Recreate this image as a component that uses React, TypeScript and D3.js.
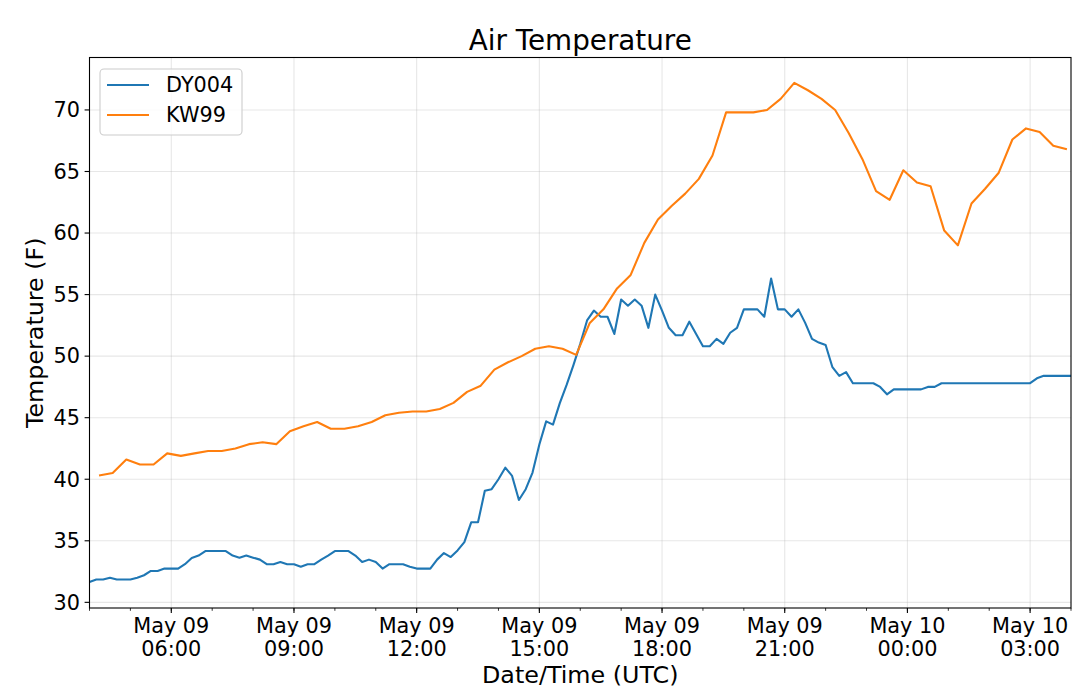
import * as d3 from "d3";

// DY004: one reading every 10 minutes from May 09 04:00 UTC
const dy004Start = Date.UTC(2019, 4, 9, 4, 0);
const dy004StepMin = 10;
const dy004Values = [
  31.65, 31.85, 31.85, 32.0, 31.85, 31.85, 31.85, 32.0, 32.2, 32.55,
  32.55, 32.74, 32.74, 32.74, 33.1, 33.6, 33.8, 34.17, 34.17, 34.17,
  34.17, 33.8, 33.63, 33.8, 33.63, 33.47, 33.1, 33.1, 33.28, 33.1,
  33.1, 32.9, 33.1, 33.1, 33.47, 33.8, 34.17, 34.17, 34.17, 33.8,
  33.28, 33.47, 33.28, 32.74, 33.1, 33.1, 33.1, 32.9, 32.74, 32.74,
  32.74, 33.47, 34.0, 33.68, 34.22, 34.89, 36.5, 36.5, 39.06, 39.19,
  40.0, 40.94, 40.27, 38.31, 39.19, 40.54, 42.82, 44.7, 44.44, 46.18,
  47.66, 49.27, 51.0, 52.9, 53.7, 53.2, 53.2, 51.8, 54.6, 54.1,
  54.6, 54.1, 52.3, 55.0, 53.7, 52.3, 51.7, 51.7, 52.8, 51.8,
  50.8, 50.8, 51.4, 51.0, 51.9, 52.3, 53.8, 53.8, 53.8, 53.2,
  56.3, 53.8, 53.8, 53.2, 53.8, 52.7, 51.4, 51.1, 50.9, 49.1,
  48.4, 48.7, 47.8, 47.8, 47.8, 47.8, 47.5, 46.9, 47.3, 47.3,
  47.3, 47.3, 47.3, 47.5, 47.5, 47.8, 47.8, 47.8, 47.8, 47.8,
  47.8, 47.8, 47.8, 47.8, 47.8, 47.8, 47.8, 47.8, 47.8, 48.2,
  48.4, 48.4, 48.4, 48.4, 48.4,
];

// KW99: one reading every 20 minutes from May 09 04:14 UTC
const kw99Start = Date.UTC(2019, 4, 9, 4, 14);
const kw99StepMin = 20;
const kw99Values = [
  40.3, 40.5, 41.6, 41.2, 41.2, 42.1, 41.9, 42.1, 42.3, 42.3,
  42.5, 42.85, 43.0, 42.85, 43.9, 44.3, 44.65, 44.1, 44.1, 44.3,
  44.65, 45.2, 45.4, 45.5, 45.5, 45.7, 46.2, 47.1, 47.6, 48.9,
  49.5, 50.0, 50.6, 50.8, 50.6, 50.1, 52.7, 53.8, 55.5, 56.6,
  59.2, 61.1, 62.2, 63.2, 64.4, 66.3, 69.8, 69.8, 69.8, 70.0,
  70.9, 72.2, 71.6, 70.9, 70.0, 68.1, 66.0, 63.4, 62.7, 65.1,
  64.1, 63.8, 60.2, 59.0, 62.4, 63.6, 64.9, 67.6, 68.5, 68.2,
  67.1, 66.8,
];

const seriesNames = ["DY004", "KW99"];
const seriesColors = ["#1f77b4", "#ff7f0e"];
const yTickValues = [30, 35, 40, 45, 50, 55, 60, 65, 70];

const xStart = new Date(Date.UTC(2019, 4, 9, 4, 0));
const xEnd = new Date(Date.UTC(2019, 4, 10, 4, 0));

type Pt = { t: Date; v: number };

function toPoints(start: number, stepMin: number, values: number[]): Pt[] {
  return values.map((v, i) => ({ t: new Date(start + i * stepMin * 60000), v }));
}

export default function App() {
  const width = 1080;
  const height = 698;
  const left = 89.5;
  const right = 1071;
  const top = 57.5;
  const bottom = 608;
  const font = "DejaVu Sans, sans-serif";

  const x = d3.scaleUtc().domain([xStart, xEnd]).range([left, right]);
  const y = d3.scaleLinear().domain([29.54, 74.26]).range([bottom, top]);

  const series = [
    toPoints(dy004Start, dy004StepMin, dy004Values),
    toPoints(kw99Start, kw99StepMin, kw99Values),
  ];

  const line = d3
    .line<Pt>()
    .x((d) => x(d.t))
    .y((d) => y(d.v));

  const majorTicks = x.ticks(d3.utcHour.every(3)!);
  const minorTicks = x.ticks(d3.utcHour.every(1)!);
  const fmtDay = d3.utcFormat("%b %d");
  const fmtTime = d3.utcFormat("%H:%M");

  return (
    <svg
      width={width}
      height={height}
      style={{ position: "absolute", left: 0, top: 0, background: "#fff" }}
      fontFamily={font}
    >
      <defs>
        <clipPath id="plot">
          <rect x={left} y={top} width={right - left} height={bottom - top} />
        </clipPath>
      </defs>

      {/* grid */}
      <g stroke="#b0b0b0" strokeOpacity={0.3} strokeWidth={1.1}>
        {yTickValues.map((t) => (
          <line key={"gy" + t} x1={left} x2={right} y1={y(t)} y2={y(t)} />
        ))}
        {majorTicks.map((t, i) => (
          <line key={"gx" + i} x1={x(t)} x2={x(t)} y1={top} y2={bottom} />
        ))}
      </g>

      {/* series */}
      <g clipPath="url(#plot)" fill="none" strokeWidth={2.1} strokeLinejoin="round">
        {series.map((s, i) => (
          <path key={i} d={line(s) || ""} stroke={seriesColors[i]} />
        ))}
      </g>

      {/* frame */}
      <rect
        x={left}
        y={top}
        width={right - left}
        height={bottom - top}
        fill="none"
        stroke="#000"
        strokeWidth={1.1}
      />

      {/* y axis */}
      <g>
        {yTickValues.map((t) => (
          <g key={t} transform={`translate(${left}, ${y(t)})`}>
            <line x2={-4.9} stroke="#000" strokeWidth={1.1} />
            <text x={-9.5} dy="0.35em" textAnchor="end" fontSize={20.8} fill="#000">
              {t}
            </text>
          </g>
        ))}
      </g>

      {/* x axis */}
      <g>
        {minorTicks.map((t, i) => (
          <line
            key={"m" + i}
            x1={x(t)}
            x2={x(t)}
            y1={bottom}
            y2={bottom + 2.8}
            stroke="#000"
            strokeWidth={0.8}
          />
        ))}
        {majorTicks.map((t, i) => (
          <g key={"M" + i} transform={`translate(${x(t)}, ${bottom})`}>
            <line y2={4.9} stroke="#000" strokeWidth={1.1} />
            <text y={24.5} textAnchor="middle" fontSize={20.8} fill="#000">
              {fmtDay(t)}
            </text>
            <text y={48} textAnchor="middle" fontSize={20.8} fill="#000">
              {fmtTime(t)}
            </text>
          </g>
        ))}
      </g>

      {/* labels */}
      <text x={(left + right) / 2} y={50} textAnchor="middle" fontSize={27.8} fill="#000">
        Air Temperature
      </text>
      <text x={(left + right) / 2} y={683} textAnchor="middle" fontSize={23.8} fill="#000">
        Date/Time (UTC)
      </text>
      <text
        transform={`translate(43, ${(top + bottom) / 2}) rotate(-90)`}
        textAnchor="middle"
        fontSize={23.8}
        fill="#000"
      >
        Temperature (F)
      </text>

      {/* legend */}
      <g>
        <rect
          x={100}
          y={69}
          width={142}
          height={66}
          rx={4}
          fill="#fff"
          fillOpacity={0.8}
          stroke="#cccccc"
          strokeWidth={1.1}
        />
        {seriesNames.map((name, i) => (
          <g key={name} transform={`translate(107, ${85 + i * 30})`}>
            <line x2={42} stroke={seriesColors[i]} strokeWidth={2.1} />
            <text x={59} dy="0.35em" fontSize={20.8} fill="#000">
              {name}
            </text>
          </g>
        ))}
      </g>
    </svg>
  );
}
